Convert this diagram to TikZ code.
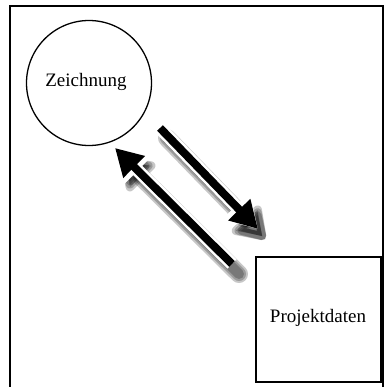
\documentclass[tikz,border=0pt]{standalone}
\usepackage{fontspec}
\setmainfont{Liberation Serif}
\usetikzlibrary{arrows.meta}
\tikzset{
  box/.style={draw, line width=1.3pt, fill=white, inner sep=0pt},
  lbl/.style={font=\fontsize{19}{22}\selectfont},
  arr/.style={line width=8pt, -{Triangle[length=27pt,width=29pt]}},
  halo/.style={line width=13pt, white, -{Triangle[length=32pt,width=37pt]}},
  shad/.style={black, opacity=0.22},
}
\begin{document}
\begin{tikzpicture}[x=1pt,y=-1pt]
\useasboundingbox (0,0) rectangle (386,387);
\fill[white] (0,0) rectangle (386,387);
\draw[line width=1.5pt] (10,395) -- (10,6) -- (383,6) -- (383,395);
\node[box, circle, minimum size=125pt] (z) at (89,83) {};
\node[lbl] (zt) at (86,82) {Zeichnung};
\node[box, minimum size=125pt] (p) at (318.5,319.5) {};
\node[lbl] (pt) at (318,318) {Projektdaten};
\coordinate (a1) at (160,128);
\coordinate (a2) at (258,229);
\coordinate (b1) at (232,264);
\coordinate (b2) at (115,148);
% blurred drop shadows
\foreach \w/\l/\h in {18/34/44, 14/32/39, 10/30/34} {
  \draw[shad, line width=\w pt, line cap=round, -{Triangle[length=\l pt,width=\h pt, round]}]
    ([shift={(7,10)}]a1) -- ([shift={(7,10)}]a2);
  \draw[shad, line width=\w pt, line cap=round, -{Triangle[length=\l pt,width=\h pt, round]}]
    ([shift={(7,10)}]b1) -- ([shift={(7,10)}]b2);
}
\draw[halo] (a1) -- (a2);
\draw[halo] (b1) -- (b2);
\draw[arr] (a1) -- (a2);
\draw[arr] (b1) -- (b2);
\end{tikzpicture}
\end{document}
